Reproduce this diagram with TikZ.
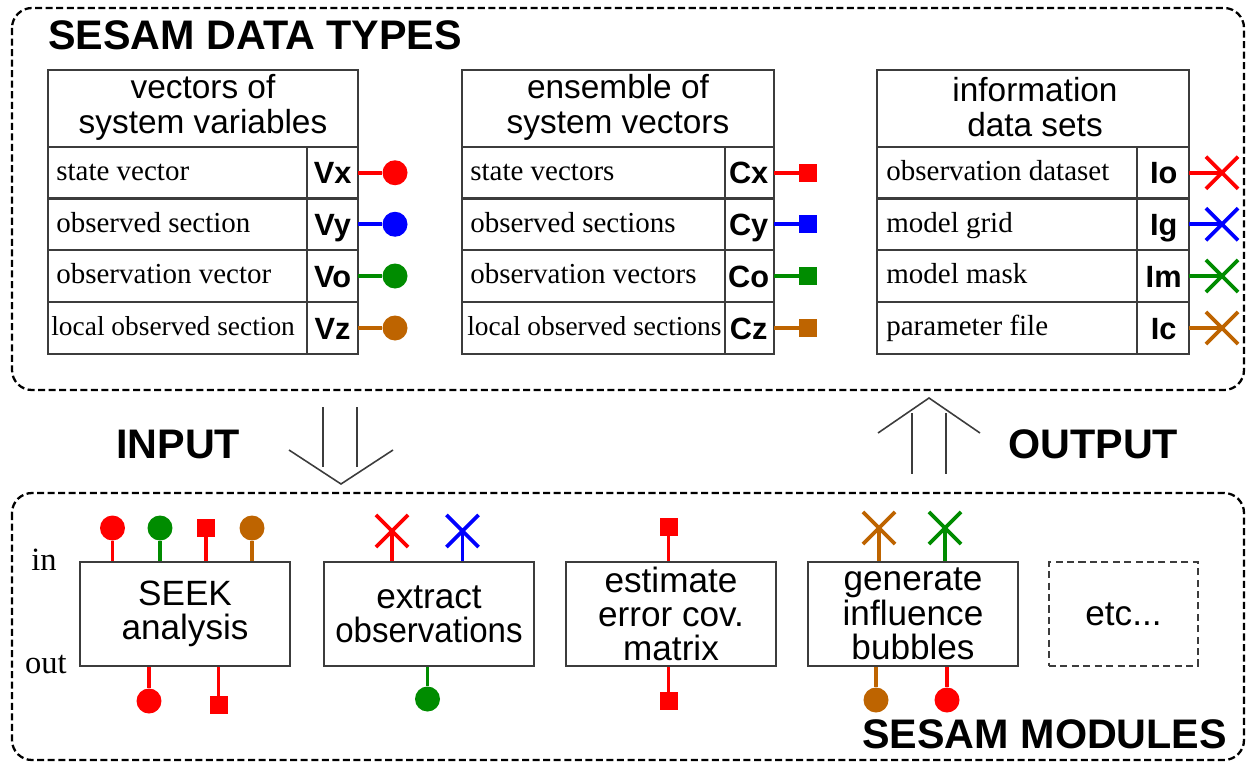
\documentclass[tikz,border=0pt]{standalone}
\usepackage{fontspec}
\usepackage{graphicx}
\setmainfont{Liberation Serif}
\setsansfont{Liberation Sans}
\usetikzlibrary{shapes.misc}
\definecolor{pRed}{RGB}{255,0,0}
\definecolor{pBlue}{RGB}{0,0,255}
\definecolor{pGreen}{RGB}{0,140,0}
\definecolor{pBrown}{RGB}{190,100,0}
\definecolor{edge}{RGB}{60,60,60}
\begin{document}
\begin{tikzpicture}[x=0.02cm,y=-0.02cm,
  group/.style={draw=black, line width=1.3pt, dash pattern=on 4pt off 2pt, rounded corners=0.4cm},
  heading/.style={font=\sffamily\bfseries\fontsize{23.5}{26}\selectfont, anchor=base west, inner sep=0},
  tbl/.style={draw=edge, line width=1.2pt},
  sep/.style={draw=edge, line width=0.6pt},
  hdr/.style={font=\sffamily\fontsize{19}{20}\selectfont, align=center, inner sep=0},
  rowtxt/.style={font=\rmfamily\fontsize{16.5}{18}\selectfont, anchor=base west, inner sep=0},
  rowsmall/.style={font=\rmfamily\fontsize{15.6}{18}\selectfont, anchor=base west, inner sep=0},
  lbl/.style={font=\sffamily\bfseries\fontsize{17.5}{20}\selectfont, inner sep=0, anchor=east, minimum width=1.0cm, text height=12.6pt, text depth=0pt},
  wire/.style={line width=2.2pt},
  dot/.style={circle, inner sep=0, minimum size=0.5cm},
  sqr/.style={rectangle, inner sep=0, minimum size=0.36cm},
  xmark/.style={cross out, draw, line width=2.1pt, inner sep=0, minimum size=0.57cm},
  module/.style={draw=edge, line width=1.2pt, minimum width=4.2cm, minimum height=2.08cm, align=center, inner sep=0, font=\sffamily\fontsize{20}{19.5}\selectfont},
  bigarrow/.style={draw=edge, line width=0.9pt},
  side/.style={font=\rmfamily\fontsize{18.5}{20}\selectfont, anchor=base, inner sep=0},
]
\useasboundingbox (0,0) rectangle (1247,764);

% ---- containers ----
\draw[group] (12,8) rectangle (1244,390);
\draw[group] (12,493) rectangle (1244,760);
\node[heading] (ttypes) at (48,50) {SESAM DATA TYPES};
\node[heading] (tmods) at (862,748) {SESAM MODULES};

% ---- table: vectors of system variables ----
\draw[tbl] (48,70) rectangle (358,354);
\foreach \y in {147,198.5,250,302} \draw[tbl] (48,\y) -- (358,\y);
\draw[sep] (307,147) -- (307,354);
\node[hdr] (hV) at (203,107) {vectors of\\system variables};
\node[rowtxt] (dVx) at (56,180.5) {state vector};
\node[rowtxt] (dVy) at (56,232) {observed section};
\node[rowtxt] (dVo) at (56,283.5) {observation vector};
\node[rowsmall] (dVz) at (51,335.5) {local observed section};
\node[lbl] (Vx) at (358,172.75) {Vx};
\node[lbl] (Vy) at (358,224.25) {Vy};
\node[lbl] (Vo) at (358,276) {Vo};
\node[lbl] (Vz) at (358,328) {Vz};
\node[dot, fill=pRed] (mVx) at (395,172.75) {};
\node[dot, fill=pBlue] (mVy) at (395,224.25) {};
\node[dot, fill=pGreen] (mVo) at (395,276) {};
\node[dot, fill=pBrown] (mVz) at (395,328) {};
\draw[wire, pRed] (Vx.east) -- (mVx);
\draw[wire, pBlue] (Vy.east) -- (mVy);
\draw[wire, pGreen] (Vo.east) -- (mVo);
\draw[wire, pBrown] (Vz.east) -- (mVz);

% ---- table: ensemble of system vectors ----
\draw[tbl] (462,70) rectangle (774,354);
\foreach \y in {147,198.5,250,302} \draw[tbl] (462,\y) -- (774,\y);
\draw[sep] (725,147) -- (725,354);
\node[hdr] (hC) at (618,107) {ensemble of\\system vectors};
\node[rowtxt] (dCx) at (470,180.5) {state vectors};
\node[rowtxt] (dCy) at (470,232) {observed sections};
\node[rowtxt] (dCo) at (470,283.5) {observation vectors};
\node[rowsmall] (dCz) at (467,335.5) {local observed sections};
\node[lbl] (Cx) at (774,172.75) {Cx};
\node[lbl] (Cy) at (774,224.25) {Cy};
\node[lbl] (Co) at (774,276) {Co};
\node[lbl] (Cz) at (774,328) {Cz};
\node[sqr, fill=pRed] (mCx) at (808,172.75) {};
\node[sqr, fill=pBlue] (mCy) at (808,224.25) {};
\node[sqr, fill=pGreen] (mCo) at (808,276) {};
\node[sqr, fill=pBrown] (mCz) at (808,328) {};
\draw[wire, pRed] (Cx.east) -- (mCx);
\draw[wire, pBlue] (Cy.east) -- (mCy);
\draw[wire, pGreen] (Co.east) -- (mCo);
\draw[wire, pBrown] (Cz.east) -- (mCz);

% ---- table: information data sets ----
\draw[tbl] (877,70) rectangle (1189,354);
\foreach \y in {147,198.5,250,302} \draw[tbl] (877,\y) -- (1189,\y);
\draw[sep] (1137,147) -- (1137,354);
\node[hdr] (hI) at (1035,107) {information\\data sets};
\node[rowtxt] (dIo) at (886,180.5) {observation dataset};
\node[rowtxt] (dIg) at (886,232) {model grid};
\node[rowtxt] (dIm) at (886,283.5) {model mask};
\node[rowtxt] (dIc) at (886,335.5) {parameter file};
\node[lbl] (Io) at (1189,172.75) {Io};
\node[lbl] (Ig) at (1189,224.25) {Ig};
\node[lbl] (Im) at (1189,276) {Im};
\node[lbl] (Ic) at (1189,328) {Ic};
\node[xmark, pRed] (mIo) at (1222,172.75) {};
\node[xmark, pBlue] (mIg) at (1222,224.25) {};
\node[xmark, pGreen] (mIm) at (1222,276) {};
\node[xmark, pBrown] (mIc) at (1222,328) {};
\draw[wire, pRed] (Io.east) -- (mIo.center);
\draw[wire, pBlue] (Ig.east) -- (mIg.center);
\draw[wire, pGreen] (Im.east) -- (mIm.center);
\draw[wire, pBrown] (Ic.east) -- (mIc.center);

% ---- input / output arrows ----
\node[heading] (tin) at (116,458) {INPUT};
\node[heading] (tout) at (1008,458) {OUTPUT};
\draw[bigarrow] (323,407) -- (323,467);
\draw[bigarrow] (357,407) -- (357,467);
\draw[bigarrow] (289,450) -- (341,484) -- (393,450);
\draw[bigarrow] (912,413) -- (912,474);
\draw[bigarrow] (946,413) -- (946,474);
\draw[bigarrow] (878,433) -- (929,398) -- (980,433);

% ---- modules ----
\node[side] (lin) at (44,570) {in};
\node[side] (lout) at (46,673) {out};
\node[module] (seek) at (185,614) {SEEK\\analysis};
\node[module] (extract) at (429,614) {extract\\\scalebox{0.94}[1]{observations}};
\node[module] (estim) at (671,614) {estimate\\error cov.\\matrix};
\node[module] (bubble) at (913,614) {generate\\influence\\bubbles};
\node[module, dash pattern=on 4pt off 2.5pt, minimum width=2.98cm] (etc) at (1123.5,614) {etc...};

% SEEK analysis ports
\node[dot, fill=pRed] (s1) at (112.5,528) {};
\node[dot, fill=pGreen] (s2) at (160,528) {};
\node[sqr, fill=pRed] (s3) at (206,528) {};
\node[dot, fill=pBrown] (s4) at (252,528) {};
\draw[wire, pRed] (s1) -- (s1 |- seek.north);
\draw[wire, pGreen] (s2) -- (s2 |- seek.north);
\draw[wire, pRed] (s3) -- (s3 |- seek.north);
\draw[wire, pBrown] (s4) -- (s4 |- seek.north);
\node[dot, fill=pRed] (s5) at (149,701) {};
\node[sqr, fill=pRed] (s6) at (218.5,705) {};
\draw[wire, pRed] (s5) -- (s5 |- seek.south);
\draw[wire, pRed] (s6) -- (s6 |- seek.south);

% extract observations ports
\node[xmark, pRed] (e1) at (392,531) {};
\node[xmark, pBlue] (e2) at (462.5,531) {};
\draw[wire, pRed] (e1.center) -- (e1 |- extract.north);
\draw[wire, pBlue] (e2.center) -- (e2 |- extract.north);
\node[dot, fill=pGreen] (e3) at (427.5,699) {};
\draw[wire, pGreen] (e3) -- (e3 |- extract.south);

% estimate error covariance ports
\node[sqr, fill=pRed] (c1) at (668.5,527) {};
\node[sqr, fill=pRed] (c2) at (668.5,701) {};
\draw[wire, pRed] (c1) -- (c1 |- estim.north);
\draw[wire, pRed] (c2) -- (c2 |- estim.south);

% influence bubbles ports
\node[xmark, pBrown] (b1) at (879,528) {};
\node[xmark, pGreen] (b2) at (945,528) {};
\draw[wire, pBrown] (b1.center) -- (b1 |- bubble.north);
\draw[wire, pGreen] (b2.center) -- (b2 |- bubble.north);
\node[dot, fill=pBrown] (b3) at (876,700) {};
\node[dot, fill=pRed] (b4) at (947,700) {};
\draw[wire, pBrown] (b3) -- (b3 |- bubble.south);
\draw[wire, pRed] (b4) -- (b4 |- bubble.south);
\end{tikzpicture}
\end{document}
